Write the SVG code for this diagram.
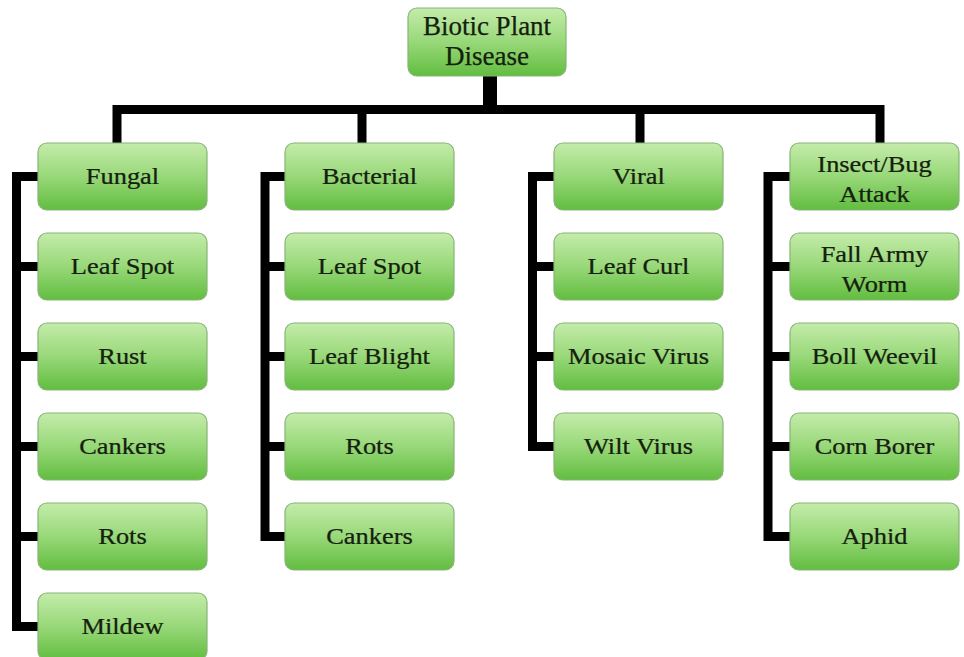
<svg xmlns="http://www.w3.org/2000/svg" width="964" height="657" viewBox="0 0 964 657">
<defs>
<linearGradient id="g" x1="0" y1="0" x2="0" y2="1">
<stop offset="0" stop-color="#c4ecaa"/>
<stop offset="0.5" stop-color="#98d879"/>
<stop offset="1" stop-color="#62bd40"/>
</linearGradient>
<style>
.box{fill:url(#g);stroke:#86b476;stroke-width:1.2}
.t{font-family:"Liberation Serif","Times New Roman",serif;font-size:24px;fill:#15200f;stroke:#15200f;stroke-width:0.25;text-anchor:middle}
.r{font-size:27px}
.c{fill:none;stroke:#000;stroke-width:9;stroke-linejoin:miter;stroke-linecap:square}
</style>
</defs>
<rect width="964" height="657" fill="#fff"/>
<g id="connectors">
<path d="M490,76 V109" fill="none" stroke="#000" stroke-width="14"/>
<path class="c" d="M117,143 V109.5 H880 V143"/>
<path class="c" d="M362,109.5 V143 M640,109.5 V143"/>
<path class="c" d="M38,176.5 H16.5 V626.5 H38 M16.5,266.5 H38 M16.5,356.5 H38 M16.5,446.5 H38 M16.5,536.5 H38"/>
<path class="c" d="M285,176.5 H265 V536.5 H285 M265,266.5 H285 M265,356.5 H285 M265,446.5 H285"/>
<path class="c" d="M554,176.5 H532.5 V446.5 H554 M532.5,266.5 H554 M532.5,356.5 H554"/>
<path class="c" d="M790,176.5 H768 V536.5 H790 M768,266.5 H790 M768,356.5 H790 M768,446.5 H790"/>
</g>
<g id="root"><rect class="box" x="408" y="8" width="158" height="68" rx="9"/>
<text class="t r" x="487" y="35">Biotic Plant</text><text class="t r" x="487" y="65">Disease</text></g>

<g id="fungal"><rect class="box" x="38" y="143" width="169" height="67" rx="9"/><text class="t" transform="translate(122.5 184) scale(1.1 1)">Fungal</text></g>
<g id="f-leafspot"><rect class="box" x="38" y="233" width="169" height="67" rx="9"/><text class="t" transform="translate(122.5 274) scale(1.1 1)">Leaf Spot</text></g>
<g id="f-rust"><rect class="box" x="38" y="323" width="169" height="67" rx="9"/><text class="t" transform="translate(122.5 364) scale(1.1 1)">Rust</text></g>
<g id="f-cankers"><rect class="box" x="38" y="413" width="169" height="67" rx="9"/><text class="t" transform="translate(122.5 454) scale(1.1 1)">Cankers</text></g>
<g id="f-rots"><rect class="box" x="38" y="503" width="169" height="67" rx="9"/><text class="t" transform="translate(122.5 544) scale(1.1 1)">Rots</text></g>
<g id="f-mildew"><rect class="box" x="38" y="593" width="169" height="67" rx="9"/><text class="t" transform="translate(122.5 634) scale(1.1 1)">Mildew</text></g>

<g id="bacterial"><rect class="box" x="285" y="143" width="169" height="67" rx="9"/><text class="t" transform="translate(369.5 184) scale(1.1 1)">Bacterial</text></g>
<g id="b-leafspot"><rect class="box" x="285" y="233" width="169" height="67" rx="9"/><text class="t" transform="translate(369.5 274) scale(1.1 1)">Leaf Spot</text></g>
<g id="b-leafblight"><rect class="box" x="285" y="323" width="169" height="67" rx="9"/><text class="t" transform="translate(369.5 364) scale(1.1 1)">Leaf Blight</text></g>
<g id="b-rots"><rect class="box" x="285" y="413" width="169" height="67" rx="9"/><text class="t" transform="translate(369.5 454) scale(1.1 1)">Rots</text></g>
<g id="b-cankers"><rect class="box" x="285" y="503" width="169" height="67" rx="9"/><text class="t" transform="translate(369.5 544) scale(1.1 1)">Cankers</text></g>

<g id="viral"><rect class="box" x="554" y="143" width="169" height="67" rx="9"/><text class="t" transform="translate(638.5 184) scale(1.1 1)">Viral</text></g>
<g id="v-leafcurl"><rect class="box" x="554" y="233" width="169" height="67" rx="9"/><text class="t" transform="translate(638.5 274) scale(1.1 1)">Leaf Curl</text></g>
<g id="v-mosaic"><rect class="box" x="554" y="323" width="169" height="67" rx="9"/><text class="t" transform="translate(638.5 364) scale(1.1 1)">Mosaic Virus</text></g>
<g id="v-wilt"><rect class="box" x="554" y="413" width="169" height="67" rx="9"/><text class="t" transform="translate(638.5 454) scale(1.1 1)">Wilt Virus</text></g>

<g id="insect"><rect class="box" x="790" y="143" width="169" height="67" rx="9"/><text class="t" transform="translate(874.5 172) scale(1.1 1)">Insect/Bug</text><text class="t" transform="translate(874.5 202) scale(1.1 1)">Attack</text></g>
<g id="i-fallarmy"><rect class="box" x="790" y="233" width="169" height="67" rx="9"/><text class="t" transform="translate(874.5 262) scale(1.1 1)">Fall Army</text><text class="t" transform="translate(874.5 292) scale(1.1 1)">Worm</text></g>
<g id="i-boll"><rect class="box" x="790" y="323" width="169" height="67" rx="9"/><text class="t" transform="translate(874.5 364) scale(1.1 1)">Boll Weevil</text></g>
<g id="i-corn"><rect class="box" x="790" y="413" width="169" height="67" rx="9"/><text class="t" transform="translate(874.5 454) scale(1.1 1)">Corn Borer</text></g>
<g id="i-aphid"><rect class="box" x="790" y="503" width="169" height="67" rx="9"/><text class="t" transform="translate(874.5 544) scale(1.1 1)">Aphid</text></g>
</svg>
